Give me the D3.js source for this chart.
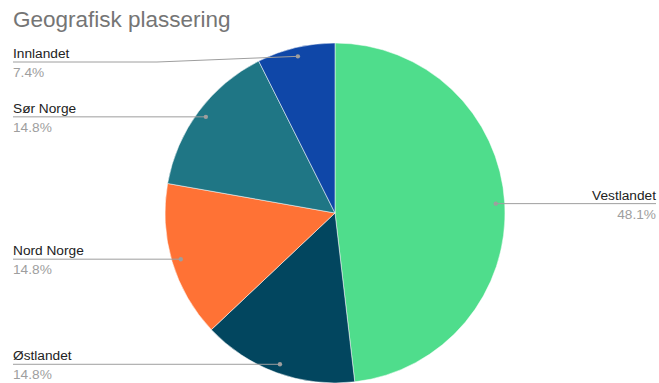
<!DOCTYPE html>
<html>
<head>
<meta charset="utf-8">
<script src="https://cdn.jsdelivr.net/npm/d3@7"></script>
<style>
  html, body { margin: 0; padding: 0; background: #fff; }
  svg { display: block; font-family: Arial, "Liberation Sans", sans-serif; }
</style>
</head>
<body>
<svg id="chart" width="659" height="383"></svg>
<script>
// Region counts behind the percentages (13 + 4 + 4 + 4 + 2 = 27 responses)
const regions = ["Vestlandet", "Østlandet", "Nord Norge", "Sør Norge", "Innlandet"];
const counts  = [13, 4, 4, 4, 2];
const colors  = ["#4fdd8c", "#02465f", "#ff7235", "#1f7685", "#0f47a8"];
const title   = "Geografisk plassering";

const svg = d3.select("#chart");
const cx = 335, cy = 213, R = 170;
const dotR = 161;
const labelLeft = 13, labelRight = 656;
const minLineY = 62;
const elbowX = 157;
const labelSize = 13.7;

svg.append("text")
  .attr("x", 13).attr("y", 27)
  .attr("font-size", 22.5)
  .attr("fill", "#757575")
  .text(title);

const total = d3.sum(counts);
const data = regions.map((name, i) => ({ name, value: counts[i], color: colors[i] }));

const pie = d3.pie().value(d => d.value).sort(null);
const arcs = pie(data);
const arc = d3.arc().innerRadius(0).outerRadius(R);

const g = svg.append("g").attr("transform", `translate(${cx},${cy})`);
g.selectAll("path.slice")
  .data(arcs)
  .enter().append("path")
  .attr("class", "slice")
  .attr("d", arc)
  .attr("fill", d => d.data.color)
  .attr("stroke", "#ffffff")
  .attr("stroke-width", 0.5);

const fmt = v => (v / total * 100).toFixed(1) + "%";

arcs.forEach(a => {
  const mid = (a.startAngle + a.endAngle) / 2;
  const dx = cx + dotR * Math.sin(mid);
  const dy = cy - dotR * Math.cos(mid);
  const right = Math.sin(mid) > 0;
  const lineY = Math.max(dy, minLineY);

  let path;
  if (right) {
    path = `M${dx},${dy} L${labelRight},${lineY}`;
  } else if (Math.abs(lineY - dy) > 0.5) {
    path = `M${dx},${dy} L${elbowX},${lineY} L${labelLeft},${lineY}`;
  } else {
    path = `M${dx},${dy} L${labelLeft},${lineY}`;
  }

  svg.append("path")
    .attr("d", path)
    .attr("fill", "none")
    .attr("stroke", "#9e9e9e")
    .attr("stroke-width", 1);

  svg.append("circle")
    .attr("cx", dx).attr("cy", dy).attr("r", 2.2)
    .attr("fill", "#9e9e9e");

  const tx = right ? labelRight : labelLeft;
  const anchor = right ? "end" : "start";

  svg.append("text")
    .attr("x", tx).attr("y", lineY - 4)
    .attr("text-anchor", anchor)
    .attr("font-size", labelSize)
    .attr("fill", "#222222")
    .text(a.data.name);

  svg.append("text")
    .attr("x", tx).attr("y", lineY + 15)
    .attr("text-anchor", anchor)
    .attr("font-size", labelSize)
    .attr("fill", "#9e9e9e")
    .text(fmt(a.data.value));
});
</script>
</body>
</html>
